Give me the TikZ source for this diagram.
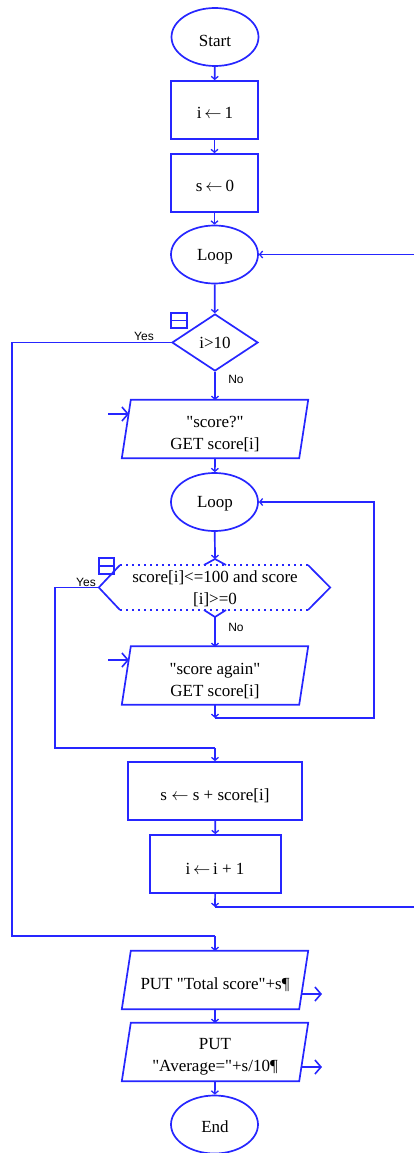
\documentclass[tikz,border=0pt]{standalone}
\usepackage{fontspec}
\setmainfont{Liberation Serif}[Ligatures=TeXOff]
\newfontfamily\lblfont{Liberation Sans}
\usetikzlibrary{shapes.geometric,arrows.meta}
\definecolor{fc}{rgb}{0.15,0.15,1}
\begin{document}
\begin{tikzpicture}[x=1pt,y=-1pt,
  shp/.style={draw=fc, line width=1.7pt, inner sep=0pt},
  term/.style={shp, ellipse, minimum width=87pt, minimum height=58pt},
  proc/.style={shp, rectangle, minimum height=58pt},
  iobox/.style={rectangle, inner sep=0pt, minimum width=177pt, minimum height=58pt},
  txt/.style={font=\fontsize{17}{22}\selectfont, align=center, inner sep=0pt},
  lbl/.style={font=\lblfont\fontsize{12}{14}\selectfont, inner sep=0pt},
  ln/.style={draw=fc, line width=1.7pt},
  conn/.style={ln, -{Straight Barb[length=3pt,width=7pt,line width=1.3pt]}},
  ioarr/.style={ln, -{Straight Barb[length=6pt,width=14pt,line width=1.6pt]}},
  symb/.style={draw=fc, line width=1.9pt}
]
\useasboundingbox (0,0) rectangle (413,1153);

% shapes
\node[term] (start) at (215,37) {};
\node[txt] (startt) at (215,41) {Start};
\node[proc, minimum width=87pt] (i1) at (214.5,110) {};
\node[txt] (i1t) at (215,113) {i\,$\leftarrow$\,1};
\node[proc, minimum width=87pt] (s0) at (214.5,183) {};
\node[txt] (s0t) at (215,186) {s\,$\leftarrow$\,0};
\node[term] (loop1) at (214.5,254.5) {};
\node[txt] (loop1t) at (215,257) {Loop};
\node[shp, diamond, minimum width=86pt, minimum height=57pt] (d1) at (215,342.5) {};
\node[txt] (d1t) at (215,343) {i>10};

% get1 parallelogram
\node[iobox] (g1) at (215,429) {};
\draw[shp] ([xshift=4.5pt]g1.north west) -- ([xshift=4.5pt]g1.north east) -- ([xshift=-4.5pt]g1.south east) -- ([xshift=-4.5pt]g1.south west) -- cycle;
\node[txt] (g1t) at (215,434) {"score?"\\GET score[i]};

\node[term] (loop2) at (214.5,502) {};
\node[txt] (loop2t) at (215,504) {Loop};

% hexagon
\node[rectangle, inner sep=0pt, minimum width=231pt, minimum height=45pt] (hex) at (214.5,587.5) {};
\draw[ln] (120,565) -- (hex.west) -- (120,610);
\draw[ln] (308,565) -- (hex.east) -- (308,610);
\draw[ln, line width=1.4pt, dash pattern=on 2pt off 4pt] (120,565) -- (308,565);
\draw[ln, line width=1.4pt, dash pattern=on 2pt off 4pt] (120,610) -- (308,610);
\coordinate (htop) at (215,559);
\coordinate (hbot) at (215,617);
\draw[ln] (204,565) -- (htop) -- (226,565);
\draw[ln] (204,610) -- (hbot) -- (226,610);
\node[txt] (hext) at (215,589) {score[i]<=100 and score\\\relax [i]>=0};

% get2 parallelogram
\node[iobox] (g2) at (215,675.5) {};
\draw[shp] ([xshift=4.5pt]g2.north west) -- ([xshift=4.5pt]g2.north east) -- ([xshift=-4.5pt]g2.south east) -- ([xshift=-4.5pt]g2.south west) -- cycle;
\node[txt] (g2t) at (215,681) {"score again"\\GET score[i]};

\node[proc, minimum width=174pt] (sum) at (215,791) {};
\node[txt] (sumt) at (215,796) {s $\leftarrow$ s + score[i]};
\node[proc, minimum width=131pt] (inc) at (215.5,864) {};
\node[txt] (inct) at (215,869) {i\,$\leftarrow$\,i + 1};

% put1, put2
\node[iobox] (p1) at (215,980) {};
\draw[shp] ([xshift=4.5pt]p1.north west) -- ([xshift=4.5pt]p1.north east) -- ([xshift=-4.5pt]p1.south east) -- ([xshift=-4.5pt]p1.south west) -- cycle;
\node[txt] (p1t) at (215,985) {PUT "Total score"+s¶};
\node[iobox] (p2) at (215,1052) {};
\draw[shp] ([xshift=4.5pt]p2.north west) -- ([xshift=4.5pt]p2.north east) -- ([xshift=-4.5pt]p2.south east) -- ([xshift=-4.5pt]p2.south west) -- cycle;
\node[txt] (p2t) at (215,1057) {PUT\\"Average="+s/10¶};

\node[term] (end) at (214.5,1124.5) {};
\node[txt] (endt) at (215,1127) {End};

% connectors
\draw[conn] (start) -- (i1);
\draw[conn] (i1) -- (s0);
\draw[conn] (s0) -- (loop1);
\draw[conn] (loop1) -- (d1);
\draw[conn] (d1) -- (215,400);
\draw[conn] (215,458) -- (loop2);
\draw[conn] (loop2) -- (htop);
\draw[conn] (hbot) -- (215,647);
\coordinate (c1) at (215,718);
\draw[conn] (215,704) -- (c1);
\draw[ln, -{Straight Barb[length=3pt,width=7pt,line width=1.3pt]}] (c1) -- (374,718) -- (374,502) -- (loop2.east);
\draw[ln] (hex.west) -- (55,587.5) -- (55,748) -- (215,748);
\draw[conn] (215,748) -- (sum.north);
\draw[conn] (sum) -- (inc);
\coordinate (c2) at (215,907);
\draw[conn] (inc) -- (c2);
\draw[ln, -{Straight Barb[length=3pt,width=7pt,line width=1.3pt]}] (c2) -- (420,907) -- (420,254.5) -- (loop1.east);
\draw[ln] (d1.west) -- (12,342.5) -- (12,936) -- (215,936);
\draw[conn] (215,936) -- (215,951);
\draw[conn] (215,1009) -- (215,1023);
\draw[conn] (215,1081) -- (end);

% io arrows
\coordinate (a1) at (108,414);
\coordinate (a1e) at (129,414);
\draw[ioarr] (a1) -- (a1e);
\coordinate (a2) at (108,660);
\coordinate (a2e) at (129,660);
\draw[ioarr] (a2) -- (a2e);
\coordinate (a3) at (301,994);
\coordinate (a3e) at (322,994);
\draw[ioarr] (a3) -- (a3e);
\coordinate (a4) at (301,1067);
\coordinate (a4e) at (322,1067);
\draw[ioarr] (a4) -- (a4e);

% labels
\node[lbl] (y1) at (144,336) {Yes};
\node[lbl] (n1) at (236,379) {No};
\node[lbl] (y2) at (86,582) {Yes};
\node[lbl] (n2) at (236,627) {No};

% small symbols
\draw[symb] (171,313) rectangle (187,328);
\draw[symb] (171,320.5) -- (187,320.5);
\draw[symb] (99,558) rectangle (114,574);
\draw[symb] (99,566) -- (114,566);
\end{tikzpicture}
\end{document}
